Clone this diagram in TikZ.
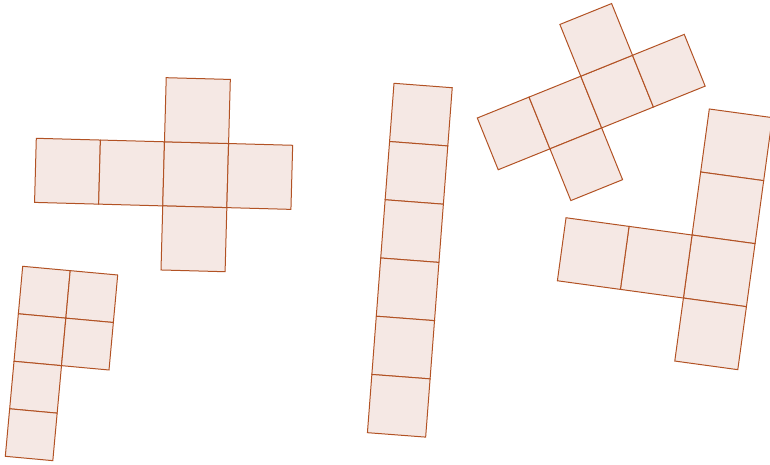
\documentclass[tikz,border=0pt]{standalone}
\definecolor{cellfill}{RGB}{245,232,228}
\definecolor{celledge}{RGB}{178,82,36}
\tikzset{cell/.style={fill=cellfill,draw=celledge,line width=1pt,line join=miter}}
\newcommand{\netcells}[1]{\foreach \i/\j in {#1}{\draw[cell] (\i,-\j) rectangle ++(1,-1);}}
\begin{document}
\begin{tikzpicture}[x=1pt,y=1pt]
\useasboundingbox (0,0) rectangle (770,-465);
% cross net, top left
\begin{scope}[shift={(36.3,-138.3)},rotate=-1.56,scale=64.12]
\netcells{0/0,1/0,2/0,3/0,2/-1,2/1}
\end{scope}
% small net, bottom left
\begin{scope}[shift={(22.7,-266.3)},rotate=-5.23,scale=47.7]
\netcells{0/0,1/0,0/1,1/1,0/2,0/3}
\end{scope}
% strip of six, middle
\begin{scope}[shift={(394,-83.3)},rotate=-4.35,scale=58.4]
\netcells{0/0,0/1,0/2,0/3,0/4,0/5}
\end{scope}
% tilted cross net, top right
\begin{scope}[shift={(477.3,-118)},rotate=22.0,scale=55.8]
\netcells{0/0,1/0,2/0,3/0,2/-1,1/1}
\end{scope}
% net at right
\begin{scope}[shift={(709.3,-109)},rotate=-7.8,scale=63.6]
\netcells{0/0,0/1,0/2,0/3,-1/2,-2/2}
\end{scope}
\end{tikzpicture}
\end{document}
